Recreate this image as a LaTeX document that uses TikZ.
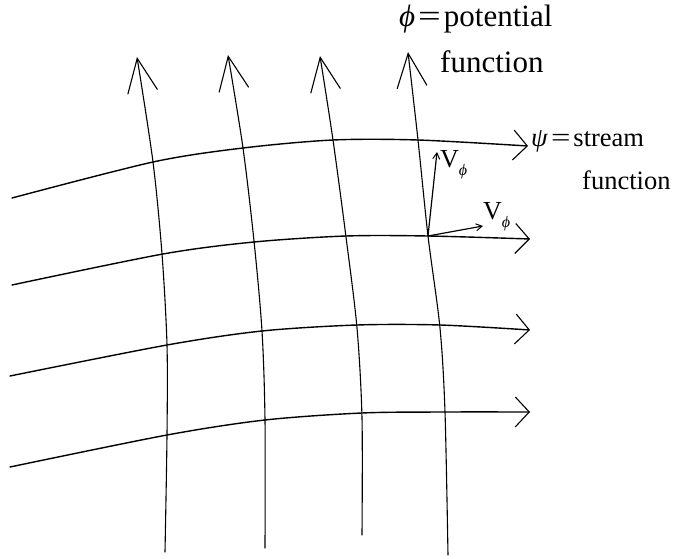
\documentclass[tikz,border=0pt]{standalone}
\usepackage{fontspec}
\usepackage{graphicx}
\setmainfont{Liberation Serif}
\usetikzlibrary{arrows.meta}
\newcommand{\myphi}{\textit{ϕ}}
\newcommand{\mypsi}{\textit{ψ}}
\newcommand{\myeq}{\kern3pt\scalebox{1.3}[1]{=}\kern3pt{}}
\newcommand{\vphi}{V\raisebox{-0.28em}{\fontsize{16}{18}\selectfont\myphi}}
\tikzset{
  curve/.style={line width=1.1pt, line join=round, line cap=round},
  hcurve/.style={line width=1.4pt, line join=round, line cap=round},
  uparrow/.style={curve, -{Straight Barb[length=34pt,width=30pt,line width=1.1pt]}},
  rarrow/.style={hcurve, -{Straight Barb[length=14pt,width=30pt,line width=1.1pt]}},
  vecarrow/.style={line width=1.2pt, -{Straight Barb[length=6pt,width=7pt,line width=1pt]}},
  toplbl/.style={anchor=base west, inner sep=0pt, font=\rmfamily\fontsize{31}{35}\selectfont},
  lbl/.style={anchor=base west, inner sep=0pt, font=\rmfamily\fontsize{26.5}{30}\selectfont},
  sublbl/.style={anchor=base west, inner sep=0pt, font=\rmfamily\fontsize{26}{30}\selectfont}
}
\begin{document}
\begin{tikzpicture}[x=1pt,y=-1pt]
\useasboundingbox (0,0) rectangle (673,559);
% potential lines (vertical)
\draw[uparrow] plot[smooth] coordinates {(165,552) (167,435) (167,345) (162,254) (153,162) (137,57)};
\draw[uparrow] plot[smooth] coordinates {(265,548) (265,420) (262,331) (254,241) (243,148) (228,55)};
\draw[uparrow] plot[smooth] coordinates {(362,535) (362,418) (357,328) (346,237) (333,140) (320,56)};
\draw[uparrow] plot[smooth] coordinates {(448,555) (445,412) (440,328) (428,236) (418,140) (408,52)};
% stream lines (horizontal)
\draw[rarrow] plot[smooth] coordinates {(12,198) (153,162) (243,148) (333,140) (418,140) (528,146)};
\draw[rarrow] plot[smooth] coordinates {(12,285) (163,254) (254,242) (346,236) (428,236) (530,239)};
\draw[rarrow] plot[smooth] coordinates {(10,376) (167,345) (262,331) (357,325) (440,325) (530,330)};
\draw[rarrow] plot[smooth] coordinates {(10,467) (167,435) (265,420) (362,413) (445,412) (530,412)};
% velocity vectors
\coordinate (o) at (428,236);
\coordinate (vu) at (437,152);
\coordinate (vr) at (483,226);
\draw[vecarrow] (o) -- (vu);
\draw[vecarrow] (o) -- (vr);
% labels
\node[sublbl] (v1) at (440,168) {\vphi};
\node[sublbl] (v2) at (483,220) {\vphi};
\node[toplbl] (pot) at (399,27) {\myphi\myeq potential};
\node[toplbl] (potf) at (440,73) {function};
\node[lbl] (str) at (531,147) {\mypsi\myeq stream};
\node[lbl] (strf) at (582,190) {function};
\end{tikzpicture}
\end{document}
